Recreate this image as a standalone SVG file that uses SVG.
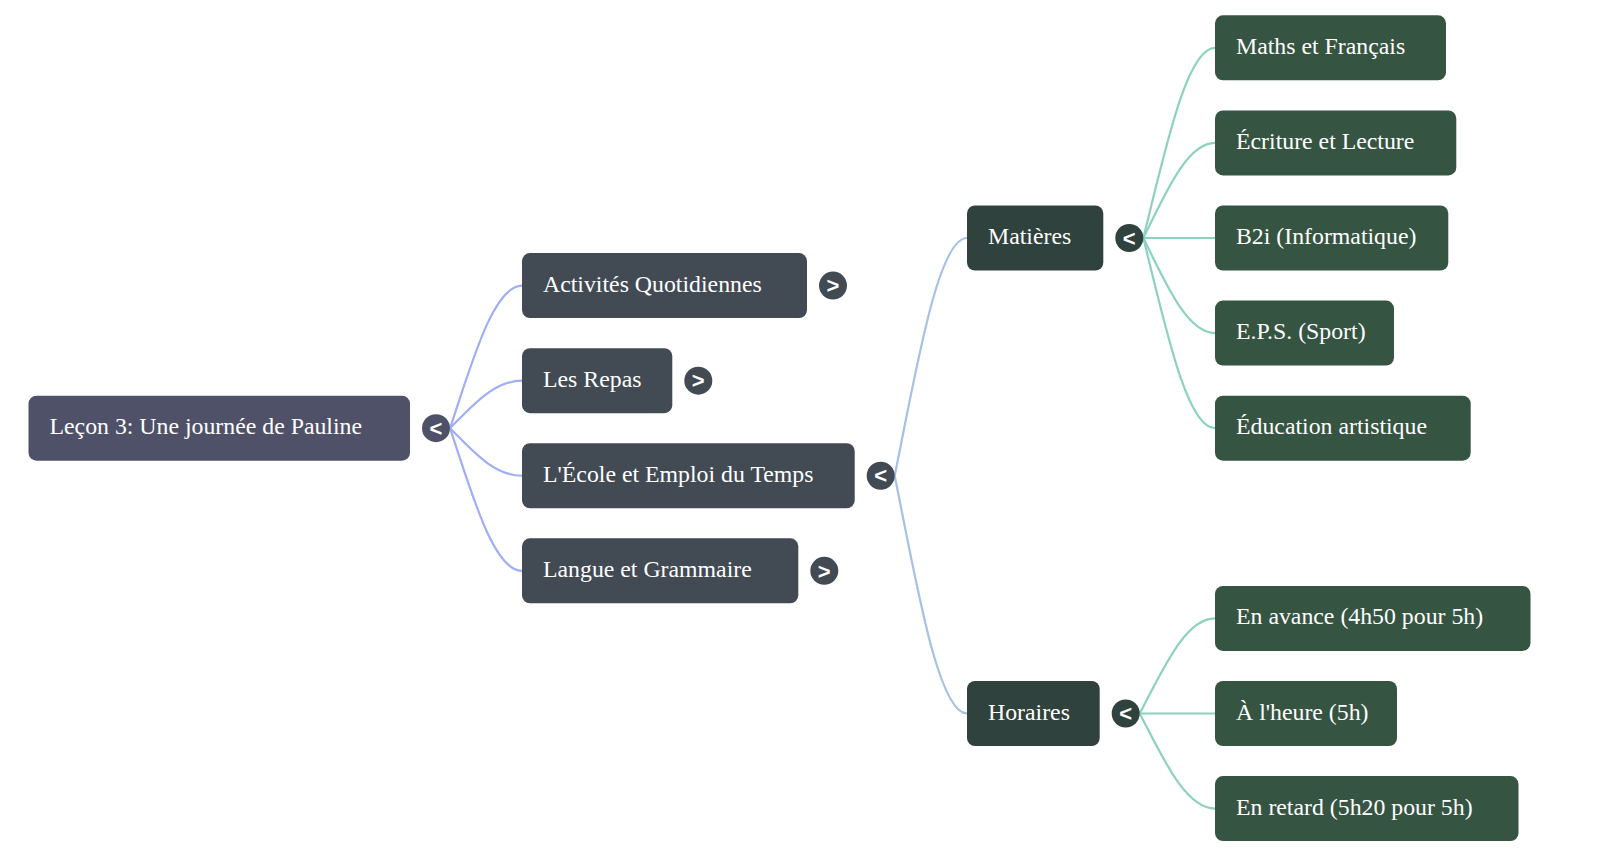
<svg xmlns="http://www.w3.org/2000/svg" width="1600" height="857" viewBox="0 0 1600 857">
<style>
  .lbl { font-family: "Liberation Serif", "Times New Roman", serif; font-size: 23.8px; fill: #ffffff; }
  .chev { font-family: "Liberation Sans", Arial, sans-serif; font-size: 22px; font-weight: bold; fill: #ffffff; text-anchor: middle; }
  .r0 { fill: #4f5168; }
  .r1 { fill: #424a54; }
  .r2 { fill: #2f423d; }
  .r3 { fill: #365442; }
  .e0 { fill: none; stroke: #a0aef6; stroke-width: 2.2; }
  .e1 { fill: none; stroke: #a6c0e6; stroke-width: 2.2; }
  .e2 { fill: none; stroke: #8cd2be; stroke-width: 2.2; }
</style>
<rect width="1600" height="857" fill="#ffffff"/>
<g id="connectors">
  <path class="e0" d="M450 428.2 C471.6 364 493.2 285.55 522 285.55"/>
  <path class="e0" d="M450 428.2 C471.6 406.8 493.2 380.65 522 380.65"/>
  <path class="e0" d="M450 428.2 C471.6 449.6 493.2 475.75 522 475.75"/>
  <path class="e0" d="M450 428.2 C471.6 492.4 493.2 570.85 522 570.85"/>
  <path class="e1" d="M894.7 475.75 C916.4 368.76 938.1 238 967 238"/>
  <path class="e1" d="M894.7 475.75 C916.4 582.74 938.1 713.5 967 713.5"/>
  <path class="e2" d="M1143.3 238 C1164.8 152.41 1186.3 47.8 1215 47.8"/>
  <path class="e2" d="M1143.3 238 C1164.8 195.2 1186.3 142.9 1215 142.9"/>
  <path class="e2" d="M1143.3 238 L1215 238"/>
  <path class="e2" d="M1143.3 238 C1164.8 280.8 1186.3 333.1 1215 333.1"/>
  <path class="e2" d="M1143.3 238 C1164.8 323.59 1186.3 428.2 1215 428.2"/>
  <path class="e2" d="M1139.7 713.5 C1162.3 670.7 1184.9 618.4 1215 618.4"/>
  <path class="e2" d="M1139.7 713.5 L1215 713.5"/>
  <path class="e2" d="M1139.7 713.5 C1162.3 756.3 1184.9 808.6 1215 808.6"/>
</g>
<g id="root">
  <rect class="r0" x="28.5" y="395.7" width="381.5" height="65" rx="8"/>
  <text class="lbl" x="49.5" y="434.2">Leçon 3: Une journée de Pauline</text>
  <circle class="r0" cx="436" cy="428.2" r="14"/>
  <text class="chev" x="436" y="435.9">&lt;</text>
</g>
<g id="n-activites">
  <rect class="r1" x="522" y="253.05" width="285" height="65" rx="8"/>
  <text class="lbl" x="543" y="291.55">Activités Quotidiennes</text>
  <circle class="r1" cx="833" cy="285.55" r="14"/>
  <text class="chev" x="833" y="293.25">&gt;</text>
</g>
<g id="n-repas">
  <rect class="r1" x="522" y="348.15" width="150.3" height="65" rx="8"/>
  <text class="lbl" x="543" y="386.65">Les Repas</text>
  <circle class="r1" cx="698.3" cy="380.65" r="14"/>
  <text class="chev" x="698.3" y="388.35">&gt;</text>
</g>
<g id="n-ecole">
  <rect class="r1" x="522" y="443.25" width="332.7" height="65" rx="8"/>
  <text class="lbl" x="543" y="481.75">L'École et Emploi du Temps</text>
  <circle class="r1" cx="880.7" cy="475.75" r="14"/>
  <text class="chev" x="880.7" y="483.45">&lt;</text>
</g>
<g id="n-langue">
  <rect class="r1" x="522" y="538.35" width="276.3" height="65" rx="8"/>
  <text class="lbl" x="543" y="576.85">Langue et Grammaire</text>
  <circle class="r1" cx="824.3" cy="570.85" r="14"/>
  <text class="chev" x="824.3" y="578.55">&gt;</text>
</g>
<g id="n-matieres">
  <rect class="r2" x="967" y="205.5" width="136.3" height="65" rx="8"/>
  <text class="lbl" x="988" y="244">Matières</text>
  <circle class="r2" cx="1129.3" cy="238" r="14"/>
  <text class="chev" x="1129.3" y="245.7">&lt;</text>
</g>
<g id="n-horaires">
  <rect class="r2" x="967" y="681" width="132.7" height="65" rx="8"/>
  <text class="lbl" x="988" y="719.5">Horaires</text>
  <circle class="r2" cx="1125.7" cy="713.5" r="14"/>
  <text class="chev" x="1125.7" y="721.2">&lt;</text>
</g>
<g id="n-maths">
  <rect class="r3" x="1215" y="15.3" width="231" height="65" rx="8"/>
  <text class="lbl" x="1236" y="53.8">Maths et Français</text>
</g>
<g id="n-ecriture">
  <rect class="r3" x="1215" y="110.4" width="241.3" height="65" rx="8"/>
  <text class="lbl" x="1236" y="148.9">Écriture et Lecture</text>
</g>
<g id="n-b2i">
  <rect class="r3" x="1215" y="205.5" width="233.3" height="65" rx="8"/>
  <text class="lbl" x="1236" y="244">B2i (Informatique)</text>
</g>
<g id="n-eps">
  <rect class="r3" x="1215" y="300.6" width="179" height="65" rx="8"/>
  <text class="lbl" x="1236" y="339.1">E.P.S. (Sport)</text>
</g>
<g id="n-education">
  <rect class="r3" x="1215" y="395.7" width="255.7" height="65" rx="8"/>
  <text class="lbl" x="1236" y="434.2">Éducation artistique</text>
</g>
<g id="n-avance">
  <rect class="r3" x="1215" y="585.9" width="315.5" height="65" rx="8"/>
  <text class="lbl" x="1236" y="624.4">En avance (4h50 pour 5h)</text>
</g>
<g id="n-heure">
  <rect class="r3" x="1215" y="681" width="182" height="65" rx="8"/>
  <text class="lbl" x="1236" y="719.5">À l'heure (5h)</text>
</g>
<g id="n-retard">
  <rect class="r3" x="1215" y="776.1" width="303.5" height="65" rx="8"/>
  <text class="lbl" x="1236" y="814.6">En retard (5h20 pour 5h)</text>
</g>
</svg>
